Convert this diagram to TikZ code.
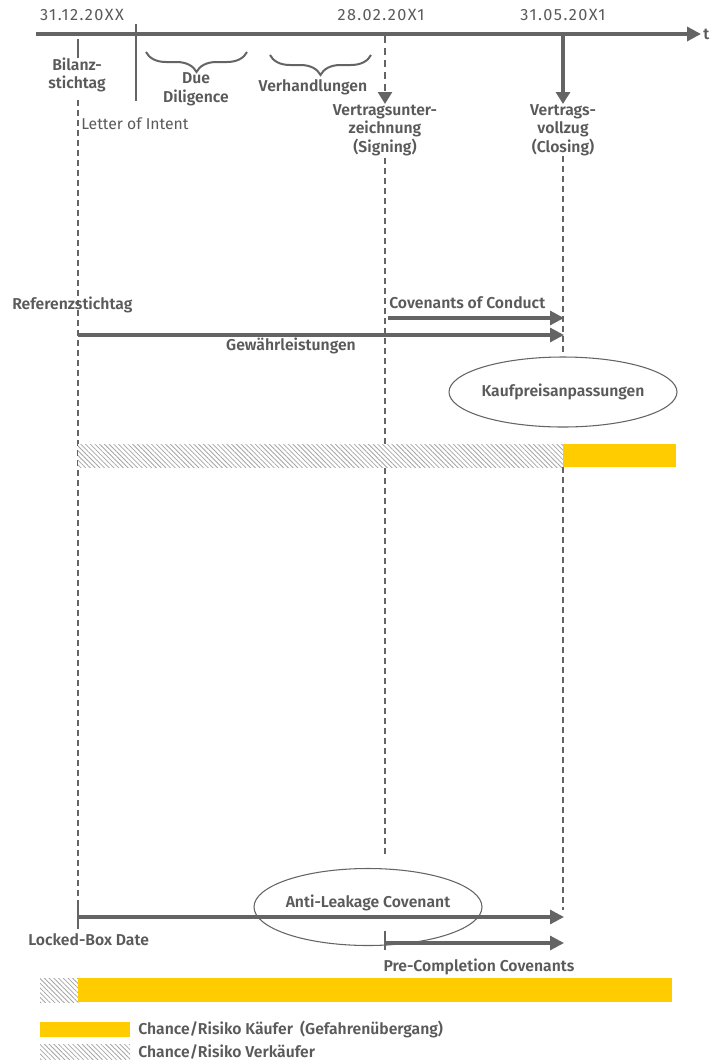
\documentclass[tikz,border=0pt]{standalone}
\usepackage{fontspec}
\setmainfont{Fira Sans}[BoldFont={Fira Sans SemiBold}]
\usetikzlibrary{arrows.meta,patterns.meta,decorations.pathreplacing,shapes.geometric}
\definecolor{eygray}{HTML}{646464}
\definecolor{eytext}{HTML}{5A5A5A}
\definecolor{eyyellow}{HTML}{FFCC00}
\begin{document}
\begin{tikzpicture}[x=0.75pt,y=-0.75pt,
  lbl/.style={text=eytext,font=\fontsize{11.8}{13.9}\selectfont\bfseries,inner sep=0pt,align=center},
  reg/.style={text=eytext,font=\fontsize{11.8}{13.9}\selectfont,inner sep=0pt},
  datelbl/.style={text=eytext,font=\fontsize{12.2}{13.9}\selectfont\addfontfeature{LetterSpace=9},inner sep=0pt},
  tickline/.style={draw=eygray,line width=1.4pt},
  axis/.style={draw=eygray,line width=2.5pt,-{Triangle[length=10.5pt,width=10.5pt]}},
  bigarrow/.style={draw=eygray,line width=2.3pt,-{Triangle[length=10.5pt,width=10.5pt]}},
  vdash/.style={draw=eygray,line width=0.95pt,dash pattern=on 4.5pt off 3pt},
  thickdash/.style={draw=eygray,line width=1.9pt,dash pattern=on 5pt off 4pt},
  hatchbox/.style={fill=white,postaction={pattern={Lines[angle=-45,distance=2.5pt,line width=0.6pt]},pattern color=black!35}},
  yellowbox/.style={fill=eyyellow},
  bracestyle/.style={draw=eygray,line width=1.5pt,decorate,decoration={brace,mirror,amplitude=15pt}},
  oval/.style={ellipse,draw=eygray,line width=0.8pt,inner sep=0pt}
]
\useasboundingbox (0,0) rectangle (721,1061);

% ---------- timeline ----------
\coordinate (ax0) at (36,34);
\coordinate (ax1) at (701,34);
\draw[axis] (ax0) -- (ax1);
\node[lbl,anchor=west] (t) at (703,34) {t};

\node[datelbl] (d1) at (82,15) {31.12.20XX};
\node[datelbl] (d2) at (381,15) {28.02.20X1};
\node[datelbl] (d3) at (563,15) {31.05.20X1};

% Bilanzstichtag tick
\coordinate (bs0) at (78,39);
\coordinate (bs1) at (78,58);
\draw[tickline] (bs0) -- (bs1);
\node[lbl] (bilanz) at (77,75) {Bilanz-\\stichtag};

% Letter of Intent
\coordinate (loi0) at (136,24);
\coordinate (loi1) at (136,101);
\draw[draw=eygray,line width=1.6pt] (loi0) -- (loi1);
\node[reg,anchor=west] (loi) at (81,124) {Letter of Intent};

% braces
\coordinate (dd0) at (146,52);
\coordinate (dd1) at (247,52);
\draw[bracestyle] (dd0) -- (dd1);
\node[lbl] (dd) at (196,89.5) {Due\\Diligence};
\coordinate (vh0) at (270,55);
\coordinate (vh1) at (371,55);
\draw[bracestyle] (vh0) -- (vh1);
\node[lbl] (vh) at (313,87) {Verhandlungen};

% Signing / Closing
\coordinate (sg0) at (385,36);
\coordinate (sg1) at (385,104);
\draw[thickdash,-{Triangle[length=9pt,width=10.5pt]}] (sg0) -- (sg1);
\node[lbl] (signing) at (385,130) {Vertragsunter-\\zeichnung\\(Signing)};
\coordinate (cl0) at (563,36);
\coordinate (cl1) at (563,104);
\draw[draw=eygray,line width=2.3pt,-{Triangle[length=9pt,width=10.5pt]}] (cl0) -- (cl1);
\node[lbl] (closing) at (563,130) {Vertrags-\\vollzug\\(Closing)};

% ---------- vertical dashed lines ----------
\coordinate (v1a) at (78,100);
\coordinate (v1b) at (78,905);
\draw[vdash] (v1a) -- (v1b);
\coordinate (v2a) at (385,158);
\coordinate (v2b) at (385,856);
\draw[vdash] (v2a) -- (v2b);
\coordinate (v3a) at (563,156);
\coordinate (v3b) at (563,352);
\draw[vdash] (v3a) -- (v3b);
\coordinate (v3c) at (563,467);
\coordinate (v3d) at (563,910);
\draw[vdash] (v3c) -- (v3d);

% ---------- middle section ----------
\node[lbl,anchor=west] (ref) at (12,305) {Referenzstichtag};
\node[lbl,anchor=west] (coc) at (389,303) {Covenants of Conduct};
\coordinate (coc0) at (388,318);
\coordinate (coc1) at (564,318);
\draw[bigarrow] (coc0) -- (coc1);
\coordinate (gw0) at (78,335);
\coordinate (gw1) at (564,335);
\draw[bigarrow] (gw0) -- (gw1);
\node[lbl] (gw) at (291,346) {Gewährleistungen};

\node[oval,minimum width=228*0.75pt,minimum height=70*0.75pt] (kp) at (563,392) {};
\node[lbl] (kptext) at (kp.center) {Kaufpreisanpassungen};

% bar 1
\path[hatchbox] (78,444) rectangle (563,467);
\path[yellowbox] (563,444) rectangle (676,467);

% ---------- bottom section ----------
\node[oval,minimum width=228*0.75pt,minimum height=77*0.75pt] (al) at (368,907) {};
\node[lbl] (altext) at (368,903) {Anti-Leakage Covenant};
\coordinate (lb0) at (78,905);
\coordinate (lb1) at (78,929);
\draw[tickline] (lb0) -- (lb1);
\coordinate (lba) at (78,917);
\coordinate (lbb) at (564,917);
\draw[bigarrow] (lba) -- (lbb);
\node[lbl,anchor=west] (lbd) at (28,940) {Locked-Box Date};

\coordinate (pc0) at (385,931);
\coordinate (pc1) at (385,950);
\draw[tickline] (pc0) -- (pc1);
\coordinate (pca) at (385,943);
\coordinate (pcb) at (564,943);
\draw[bigarrow] (pca) -- (pcb);
\node[lbl] (pc) at (479,967) {Pre-Completion Covenants};

% bar 2
\path[hatchbox] (40,978) rectangle (78,1002);
\path[yellowbox] (78,978) rectangle (672,1002);

% ---------- legend ----------
\path[yellowbox] (40,1022) rectangle (130,1037);
\node[lbl,anchor=west] (lg1) at (138,1029.5) {Chance/Risiko Käufer\hspace{0.45em}(Gefahrenübergang)};
\path[hatchbox] (40,1044) rectangle (130,1059);
\node[lbl,anchor=west] (lg2) at (138,1051.5) {Chance/Risiko Verkäufer};
\end{tikzpicture}
\end{document}
